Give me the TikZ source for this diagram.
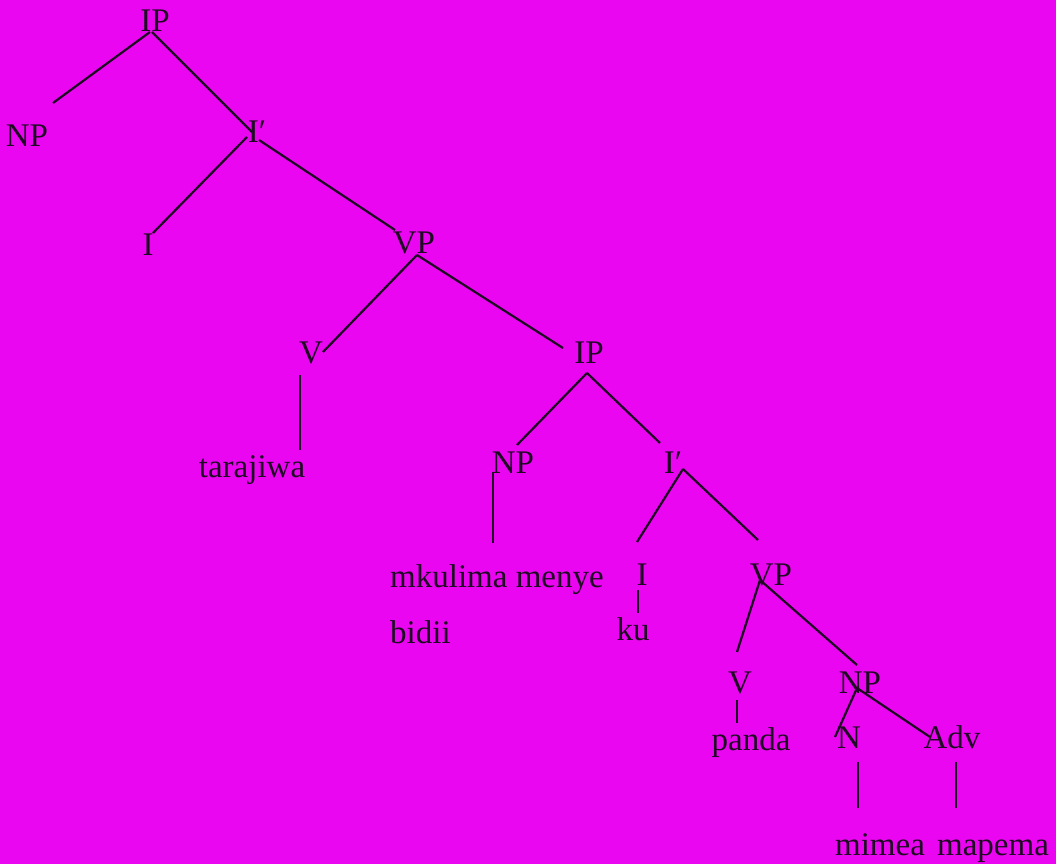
\documentclass[tikz,border=0pt]{standalone}
\usepackage{fontspec}
\setmainfont{Liberation Serif}
\usepackage{tikz}
\usetikzlibrary{calc}

\definecolor{bgmag}{RGB}{234,6,240}
\definecolor{ink}{RGB}{30,10,34}

\begin{document}
\begin{tikzpicture}[x=1pt,y=-1pt,
    cat/.style={anchor=base,inner sep=0pt,text=ink,font=\fontsize{33}{39}\selectfont},
    branch/.style={line width=2.2pt,draw=ink}]
    % page
    \fill[bgmag] (0,0) rectangle (1056,864);
    \useasboundingbox (0,0) rectangle (1056,864);

    % upper IP
    \node[cat] (ip1) at (155,32) {IP};
    \node[cat] (np1) at (27,146) {NP};
    \node[cat] (ib1) at (257,142) {I′};
    \node[cat] (i1) at (148,255) {I};
    \node[cat] (vp1) at (414,253) {VP};
    \node[cat] (v1) at (311,363) {V};
    \node[cat] (taraj) at (252,477) {tarajiwa};

    % embedded IP
    \node[cat] (ip2) at (589,363) {IP};
    \node[cat] (np2) at (513,473) {NP};
    \node[cat] (ib2) at (673,473) {I′};
    \node[cat,anchor=base west] (mkulima) at (390,587) {mkulima menye};
    \node[cat,anchor=base west] (bidii) at (390,643) {bidii};
    \node[cat] (i3) at (642,585) {I};
    \node[cat] (ku) at (633,640) {ku};
    \node[cat] (vp3) at (771,585) {VP};
    \node[cat] (v4) at (740,693) {V};
    \node[cat] (np4) at (860,693) {NP};
    \node[cat] (panda) at (751,750) {panda};
    \node[cat] (n5) at (849,748) {N};
    \node[cat] (adv) at (952,748) {Adv};
    \node[cat] (mimea) at (880,855) {mimea};
    \node[cat] (mapema) at (993,855) {mapema};

    % branches
    \draw[branch] ($(ip1.base)+(-5,0)$) -- ($(np1.base)+(26,-43)$);
    \draw[branch] ($(ip1.base)+(-3,0)$) -- ($(ib1.base)+(-4,-9)$);
    \draw[branch] ($(ib1.base)+(-10,-5)$) -- ($(i1.base)+(5,-22)$);
    \draw[branch] ($(ib1.base)+(2,-2)$) -- ($(vp1.base)+(-19,-23)$);
    \draw[branch] ($(vp1.base)+(3,2)$) -- ($(v1.base)+(12,-11)$);
    \draw[branch] ($(vp1.base)+(3,2)$) -- ($(ip2.base)+(-26,-15)$);
    \draw[branch] ($(v1.base)+(-11,12)$) -- ($(taraj.base)+(48,-27)$);
    \draw[branch] ($(ip2.base)+(-2,10)$) -- ($(np2.base)+(4,-28)$);
    \draw[branch] ($(ip2.base)+(-2,10)$) -- ($(ib2.base)+(-13,-30)$);
    \draw[branch] ($(np2.base)+(-20,-1)$) -- ($(mkulima.base west)+(103,-44)$);
    \draw[branch] ($(ib2.base)+(10,-4)$) -- ($(i3.base)+(-5,-43)$);
    \draw[branch] ($(ib2.base)+(10,-4)$) -- ($(vp3.base)+(-13,-45)$);
    \draw[branch] ($(i3.base)+(-4,5)$) -- ($(ku.base)+(5,-27)$);
    \draw[branch] ($(vp3.base)+(-11,-5)$) -- ($(v4.base)+(-3,-41)$);
    \draw[branch] ($(vp3.base)+(-11,-5)$) -- ($(np4.base)+(-3,-28)$);
    \draw[branch] ($(v4.base)+(-3,7)$) -- ($(panda.base)+(-14,-27)$);
    \draw[branch] ($(np4.base)+(-3,-5)$) -- ($(n5.base)+(-14,-11)$);
    \draw[branch] ($(np4.base)+(-3,-5)$) -- ($(adv.base)+(-22,-11)$);
    \draw[branch] ($(n5.base)+(9,14)$) -- ($(mimea.base)+(-22,-47)$);
    \draw[branch] ($(adv.base)+(4,14)$) -- ($(mapema.base)+(-37,-47)$);
\end{tikzpicture}
\end{document}
